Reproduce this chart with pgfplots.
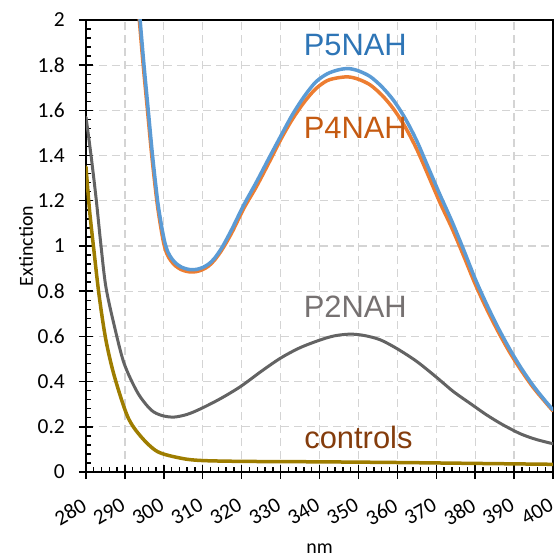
\documentclass[border=0pt]{standalone}
\usepackage{pgfplots}
\pgfplotsset{compat=1.18}
\usepackage{fontspec}
\setmainfont{Carlito}
\newfontfamily\arial{Liberation Sans}
\definecolor{cBlue}{HTML}{5B9BD5}
\definecolor{cOrange}{HTML}{ED7D31}
\definecolor{cGray}{HTML}{636363}
\definecolor{cGold}{HTML}{9E7D00}
\definecolor{tBlue}{HTML}{2E75B6}
\definecolor{tOrange}{HTML}{C55A11}
\definecolor{tGray}{HTML}{767171}
\definecolor{tBrown}{HTML}{843C0C}
\definecolor{gridc}{HTML}{D4D4D4}
\begin{document}
\begin{tikzpicture}
\begin{axis}[
  scale only axis,
  width=467bp, height=452bp,
  xmin=280, xmax=400, ymin=0, ymax=2,
  xtick={280,290,...,400},
  ytick={0,0.2,0.4,0.6,0.8,1,1.2,1.4,1.6,1.8,2},
  yticklabels={0,0.2,0.4,0.6,0.8,1,1.2,1.4,1.6,1.8,2},
  minor x tick num=4, minor y tick num=4,
  tick pos=left,
  tick align=inside,
  major tick length=7bp, minor tick length=5bp,
  every tick/.style={black, line width=1.4bp},
  extra x ticks={280,290,300,310,320,330,340,350,360,370,380,390,400},
  extra x tick labels={,,,,,,,,,,,,},
  extra y ticks={0,0.2,0.4,0.6,0.8,1,1.2,1.4,1.6,1.8,2},
  extra y tick labels={,,,,,,,,,,},
  extra tick style={tick align=outside, major tick length=7bp, grid=none},
  grid=major,
  major grid style={gridc, line width=1.2bp, dash pattern=on 8bp off 5bp},
  axis line style={black, line width=1.4bp},
  /pgf/number format/assume math mode=true,
  tick label style={font=\fontsize{21.5}{22}\selectfont, inner sep=0pt},
  xticklabel style={rotate=30, anchor=north east, xshift=-6bp},
  yticklabel style={anchor=east},
  xticklabel shift=22bp,
  yticklabel shift=21bp,
  xlabel={nm}, ylabel={Extinction},
  label style={font=\fontsize{20}{22}\selectfont, inner sep=0pt},
  xlabel style={at={(axis description cs:0.5,-0.1814)}, anchor=base},
  ylabel style={at={(axis description cs:-0.1135,0.5)}, anchor=base},
  every axis plot/.append style={smooth, tension=0.5, line cap=round, line join=round},
]
% controls
\addplot[cGold, line width=3.5bp] coordinates {
(280,1.35) (280.9,1.16) (282.1,0.97) (283.4,0.777) (285.1,0.585) (287.3,0.423)
(290.7,0.245) (294.1,0.157) (298.4,0.09) (304.4,0.061) (309.5,0.051) (320,0.047)
(340,0.045) (360,0.042) (380,0.038) (400,0.034)};
% P2NAH
\addplot[cGray, line width=3bp] coordinates {
(280,1.57) (281.3,1.40) (282.6,1.21) (283.8,1.01) (285.1,0.82) (287.3,0.645)
(289.8,0.48) (293.3,0.35) (296.7,0.275) (299.5,0.25) (302.6,0.243) (306,0.255)
(309.5,0.28) (314.6,0.325) (319.7,0.378) (325,0.445) (330,0.504) (335,0.55)
(340.3,0.585) (344,0.603) (347.9,0.61) (351.5,0.604) (355.6,0.585) (360,0.545)
(365,0.489) (370,0.42) (374.4,0.356) (379,0.30) (383,0.252) (387,0.21)
(391.5,0.17) (395.5,0.145) (400,0.125)};
% P4NAH
\addplot[cOrange, line width=3.5bp] coordinates {
(293.4,2.06) (293.7,2.00) (294.7,1.80) (295.8,1.60) (296.9,1.40) (298.2,1.20)
(299.2,1.085) (300.0,1.01) (300.8,0.965) (301.8,0.935) (303.0,0.912) (304.4,0.896)
(305.8,0.888) (307.1,0.885) (308.4,0.887) (309.9,0.895) (311.4,0.91) (313,0.937)
(315,0.985) (317.5,1.06) (320.5,1.165) (323.7,1.26) (326.9,1.365) (330,1.47)
(333,1.56) (336,1.635) (339,1.695) (342,1.732) (345,1.745) (347.5,1.748)
(350,1.738) (353,1.713) (356,1.668) (359,1.607) (362,1.527) (365,1.428)
(368,1.31) (371,1.19) (374,1.08) (377,0.958) (380,0.832) (383,0.72)
(386,0.618) (389,0.526) (392,0.445) (395,0.372) (398,0.31) (400,0.27)};
% P5NAH
\addplot[cBlue, line width=3.5bp] coordinates {
(293.6,2.06) (293.9,2.00) (294.9,1.80) (296.0,1.60) (297.1,1.40) (298.4,1.20)
(299.4,1.09) (300.2,1.02) (301.0,0.975) (302.0,0.945) (303.2,0.922) (304.6,0.906)
(306.0,0.898) (307.2,0.895) (308.5,0.897) (310.0,0.905) (311.5,0.92) (313,0.945)
(315,0.995) (317.5,1.075) (320.5,1.18) (323.7,1.28) (326.9,1.385) (330,1.485)
(333,1.58) (336,1.66) (339,1.725) (342,1.762) (345,1.78) (347.5,1.785)
(350,1.775) (353,1.75) (356,1.705) (359,1.645) (362,1.565) (365,1.465)
(368,1.345) (371,1.225) (374,1.11) (377,0.985) (380,0.855) (383,0.74)
(386,0.635) (389,0.54) (392,0.455) (395,0.38) (398,0.315) (400,0.275)};
\node[anchor=base, inner sep=0pt, text=tBlue, font=\arial\fontsize{31}{33}\selectfont] at (axis cs:349.2,1.845) {P5NAH};
\node[anchor=base, inner sep=0pt, text=tOrange, font=\arial\fontsize{31}{33}\selectfont] at (axis cs:349.2,1.475) {P4NAH};
\node[anchor=base, inner sep=0pt, text=tGray, font=\arial\fontsize{31}{33}\selectfont] at (axis cs:349.2,0.682) {P2NAH};
\node[anchor=base, inner sep=0pt, text=tBrown, font=\arial\fontsize{31}{33}\selectfont] at (axis cs:350.0,0.105) {controls};
\end{axis}
\pgfresetboundingbox
\path[use as bounding box] (-86bp,-86bp) rectangle (471bp,472bp);
\end{tikzpicture}
\end{document}
